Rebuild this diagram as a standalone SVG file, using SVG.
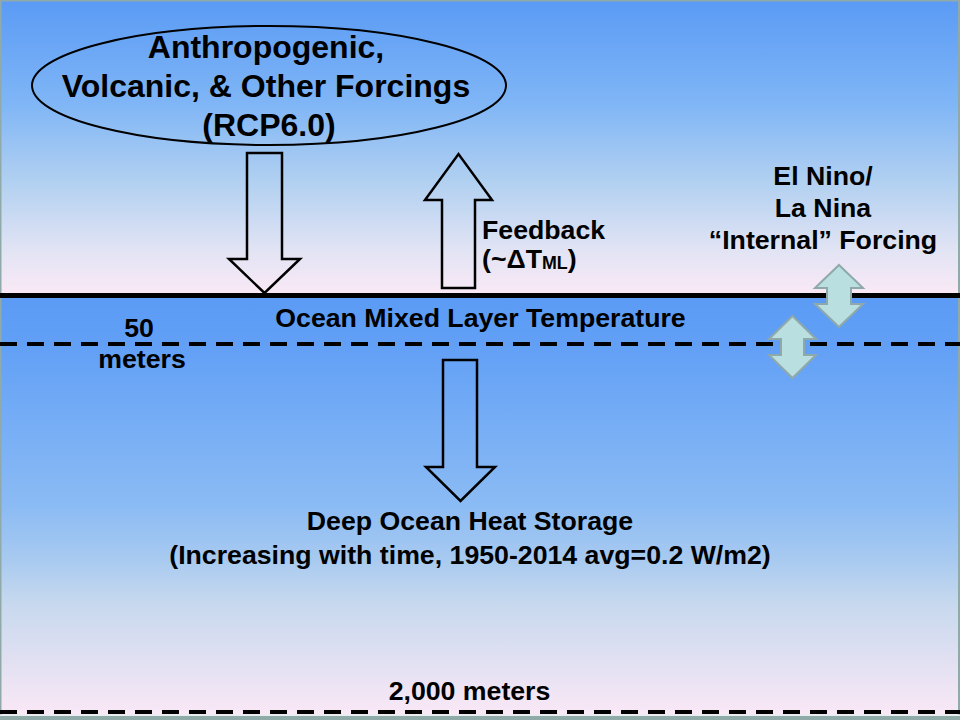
<svg xmlns="http://www.w3.org/2000/svg" width="960" height="720" viewBox="0 0 960 720">
<defs>
<linearGradient id="sky" x1="0" y1="0" x2="0" y2="1">
<stop offset="0" stop-color="#5B9BF5"/>
<stop offset="0.35" stop-color="#80B6F6"/>
<stop offset="0.6" stop-color="#AFCFF1"/>
<stop offset="0.85" stop-color="#E2E4F4"/>
<stop offset="1" stop-color="#FBE9F6"/>
</linearGradient>
<linearGradient id="sea" x1="0" y1="0" x2="0" y2="1">
<stop offset="0" stop-color="#5B9BF5"/>
<stop offset="0.12" stop-color="#62A0F6"/>
<stop offset="0.5" stop-color="#8BBBF4"/>
<stop offset="0.63" stop-color="#A8CAF0"/>
<stop offset="0.73" stop-color="#C6D8EE"/>
<stop offset="1" stop-color="#FAE8F6"/>
</linearGradient>
<style>
text{font-family:"Liberation Sans",Arial,Helvetica,sans-serif;font-weight:bold;fill:#000;}
.big{font-size:32px;}
.med{font-size:26.7px;}
.sub{font-size:17.8px;}
.c{text-anchor:middle;}
.blk{fill:none;stroke:#000;stroke-width:2.5;stroke-linejoin:miter;}
.dbl{fill:#B9DFE1;stroke:#8FA9AB;stroke-width:2;stroke-linejoin:miter;}
.dash{stroke:#000;stroke-width:4;stroke-dasharray:17 10;fill:none;}
</style>
</defs>
<rect x="0" y="0" width="960" height="720" fill="#90AAAA"/>
<rect x="1.5" y="1.5" width="956.5" height="294" fill="url(#sky)"/>
<rect x="1.5" y="295.5" width="956.5" height="419.5" fill="url(#sea)"/>
<rect x="0" y="714.5" width="960" height="1.5" fill="#E8EEF0"/>

<g id="levels">
<line x1="0" y1="295.5" x2="960" y2="295.5" stroke="#000" stroke-width="5"/>
<line class="dash" x1="0" y1="344" x2="960" y2="344"/>
<line class="dash" x1="0" y1="712" x2="960" y2="712"/>
</g>

<g id="forcings">
<ellipse cx="269" cy="85.5" rx="237" ry="59.5" fill="none" stroke="#000" stroke-width="2"/>
<text class="big c" x="266" y="58">Anthropogenic,</text>
<text class="big c" x="266" y="97">Volcanic, &amp; Other Forcings</text>
<text class="big c" x="269" y="136">(RCP6.0)</text>
</g>

<g id="connectors">
<polygon id="arrow-forcing" class="blk" points="247,153 282,153 282,259 300,259 264.5,293 229,259 247,259"/>
<polygon id="arrow-feedback" class="blk" points="442,288 475,288 475,200 492,200 458.5,154 425,200 442,200"/>
<polygon id="arrow-deep" class="blk" points="443,360 477,360 477,467 495,467 460.5,501 426,467 443,467"/>
<polygon id="enso-upper" class="dbl" points="839,265 863,288 851,288 851,304 863,304 839,327 815,304 827,304 827,288 815,288"/>
<polygon id="enso-lower" class="dbl" points="792.5,316 816,339 804,339 804,355 816,355 792.5,378 769,355 781,355 781,339 769,339"/>
</g>

<g id="feedback">
<text class="med" x="482" y="239">Feedback</text>
<text class="med" x="482" y="267.5">(~ΔT<tspan class="sub" dy="1.5">ML</tspan><tspan dy="-1.5">)</tspan></text>
</g>

<g id="enso">
<text class="med c" x="823" y="184.5">El Nino/</text>
<text class="med c" x="823" y="216.5">La Nina</text>
<text class="med c" x="823" y="248.5">“Internal” Forcing</text>
</g>

<g id="mixed-layer">
<text class="med c" x="480.5" y="327">Ocean Mixed Layer Temperature</text>
<text class="med c" x="139" y="337">50</text>
<text class="med c" x="142" y="368">meters</text>
</g>

<g id="deep-ocean">
<text class="med c" x="470" y="530">Deep Ocean Heat Storage</text>
<text class="med c" x="470" y="564">(Increasing with time, 1950-2014 avg=0.2 W/m2)</text>
</g>

<g id="bottom">
<text class="med c" x="469.5" y="700">2,000 meters</text>
</g>
</svg>
